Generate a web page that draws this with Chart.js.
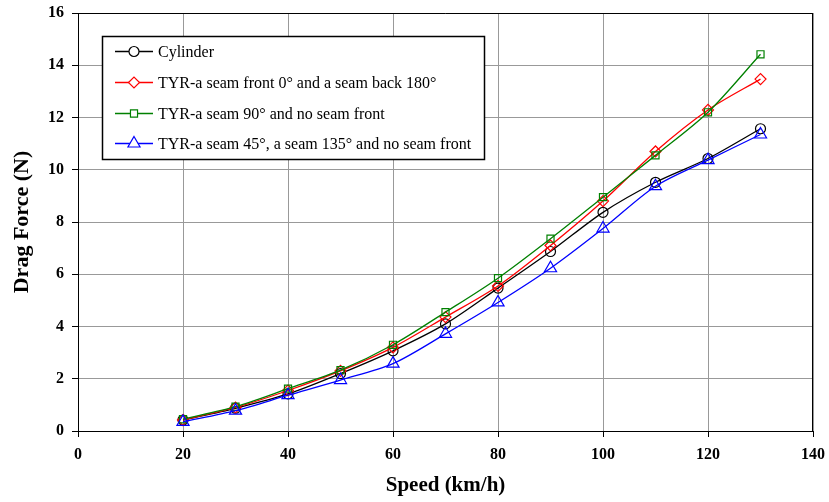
<!DOCTYPE html>
<html>
<head>
<meta charset="utf-8">
<script src="https://cdn.jsdelivr.net/npm/chart.js@4/dist/chart.umd.min.js"></script>
<style>
  html, body { margin: 0; padding: 0; background: #fff; }
  #wrap { width: 829px; height: 502px; }
</style>
</head>
<body>
<div id="wrap"><canvas id="c" width="829" height="502"></canvas></div>
<script>
// ---- data ----
const speeds = [20, 30, 40, 50, 60, 70, 80, 90, 100, 110, 120, 130];
const cylinder  = [0.42, 0.87, 1.42, 2.20, 3.07, 4.10, 5.47, 6.87, 8.37, 9.52, 10.43, 11.57];
const seamFrontBack = [0.42, 0.90, 1.55, 2.30, 3.20, 4.36, 5.55, 7.10, 8.80, 10.70, 12.29, 13.47];
const seam90 = [0.45, 0.93, 1.62, 2.33, 3.30, 4.55, 5.85, 7.36, 8.95, 10.55, 12.20, 14.42];
const seam45_135 = [0.35, 0.78, 1.37, 1.95, 2.58, 3.72, 4.92, 6.23, 7.75, 9.37, 10.37, 11.35];
const seriesLabels = [
  'Cylinder',
  'TYR-a seam front 0\u00B0 and a seam back 180\u00B0',
  'TYR-a seam 90\u00B0 and no seam front',
  'TYR-a seam 45\u00B0, a seam 135\u00B0 and no seam front'
];
const xTitle = 'Speed (km/h)';
const yTitle = 'Drag Force (N)';
const xTicks = [0, 20, 40, 60, 80, 100, 120, 140];
const yTicks = [0, 2, 4, 6, 8, 10, 12, 14, 16];

const FONT = "'Liberation Serif', 'Times New Roman', serif";

function pts(ys) { return speeds.map((x, i) => ({ x: x, y: ys[i] })); }

const styles = [
  { color: '#000000', pointStyle: 'circle',   radius: 5,   order: 4 },
  { color: '#ff0000', pointStyle: 'rectRot',  radius: 5.5, order: 3 },
  { color: '#008000', pointStyle: 'rect',     radius: 5,   order: 2 },
  { color: '#0000ff', pointStyle: 'triangle', radius: 7,   order: 1 }
];
const allSeries = [cylinder, seamFrontBack, seam90, seam45_135];

const datasets = allSeries.map((ys, i) => ({
  label: seriesLabels[i],
  data: pts(ys),
  borderColor: styles[i].color,
  backgroundColor: 'rgba(0,0,0,0)',
  borderWidth: 1.3,
  pointStyle: styles[i].pointStyle,
  pointRadius: styles[i].radius,
  pointBorderWidth: 1.2,
  pointBorderColor: styles[i].color,
  pointBackgroundColor: 'rgba(0,0,0,0)',
  tension: 0.3,
  order: styles[i].order
}));

const frameLegendPlugin = {
  id: 'frameLegend',
  beforeDatasetsDraw(chart) {
    const ctx = chart.ctx, a = chart.chartArea;
    ctx.save();
    ctx.strokeStyle = '#000';
    ctx.lineWidth = 1;
    ctx.beginPath();
    ctx.moveTo(a.left, Math.round(a.top) + 0.5);
    ctx.lineTo(a.right, Math.round(a.top) + 0.5);
    ctx.moveTo(Math.round(a.right) - 0.5, a.top);
    ctx.lineTo(Math.round(a.right) - 0.5, a.bottom);
    ctx.stroke();
    ctx.restore();
  },
  afterDraw(chart) {
    const ctx = chart.ctx;
    const bx = 102.5, by = 36.5, bw = 382, bh = 123;
    ctx.save();
    ctx.fillStyle = '#fff';
    ctx.fillRect(bx, by, bw, bh);
    ctx.strokeStyle = '#000';
    ctx.lineWidth = 1.5;
    ctx.strokeRect(bx, by, bw, bh);
    const rows = [51.5, 82.5, 113.5, 143.5];
    chart.data.datasets.forEach((ds, i) => {
      const y = rows[i];
      ctx.strokeStyle = ds.borderColor;
      ctx.lineWidth = 1.3;
      ctx.beginPath();
      ctx.moveTo(115, y);
      ctx.lineTo(153, y);
      ctx.stroke();
      ctx.fillStyle = '#fff';
      ctx.lineWidth = 1.2;
      Chart.helpers.drawPoint(ctx, {
        pointStyle: ds.pointStyle,
        radius: ds.pointRadius,
        borderWidth: 1.2,
        rotation: 0
      }, 134, y);
      ctx.fillStyle = '#000';
      ctx.font = '16px ' + FONT;
      ctx.textBaseline = 'middle';
      ctx.textAlign = 'left';
      ctx.fillText(ds.label, 158, y + 1);
    });
    ctx.restore();
  }
};

function zeroPad(scale) {
  scale.paddingTop = 0; scale.paddingBottom = 0;
  scale.paddingLeft = 0; scale.paddingRight = 0;
}

new Chart(document.getElementById('c'), {
  type: 'line',
  data: { datasets: datasets },
  options: {
    responsive: false,
    animation: false,
    devicePixelRatio: 1,
    layout: { autoPadding: false, padding: { left: 0, top: 13, right: 16, bottom: 0 } },
    plugins: {
      legend: { display: false },
      tooltip: { enabled: false }
    },
    scales: {
      x: {
        type: 'linear',
        min: 0, max: 140,
        afterBuildTicks(scale) { scale.ticks = xTicks.map(v => ({ value: v })); },
        afterFit(scale) { scale.height = 71; zeroPad(scale); },
        ticks: {
          color: '#000',
          padding: 8,
          font: { family: FONT, size: 16, weight: 'bold' }
        },
        grid: { color: '#999999', lineWidth: 1, tickLength: 6, tickColor: '#000' },
        border: { color: '#000', width: 1 },
        title: {
          display: true, text: xTitle, color: '#000',
          font: { family: FONT, size: 21, weight: 'bold' },
          padding: { top: 0, bottom: 4 }
        }
      },
      y: {
        type: 'linear',
        min: 0, max: 16,
        afterBuildTicks(scale) { scale.ticks = yTicks.map(v => ({ value: v })); },
        afterFit(scale) { scale.width = 78; zeroPad(scale); },
        ticks: {
          color: '#000',
          padding: 8,
          font: { family: FONT, size: 16, weight: 'bold' }
        },
        grid: { color: '#999999', lineWidth: 1, tickLength: 6, tickColor: '#000' },
        border: { color: '#000', width: 1 },
        title: {
          display: true, text: yTitle, color: '#000',
          font: { family: FONT, size: 22, weight: 'bold' },
          padding: { top: 9, bottom: 0 }
        }
      }
    }
  },
  plugins: [frameLegendPlugin]
});
</script>
</body>
</html>
